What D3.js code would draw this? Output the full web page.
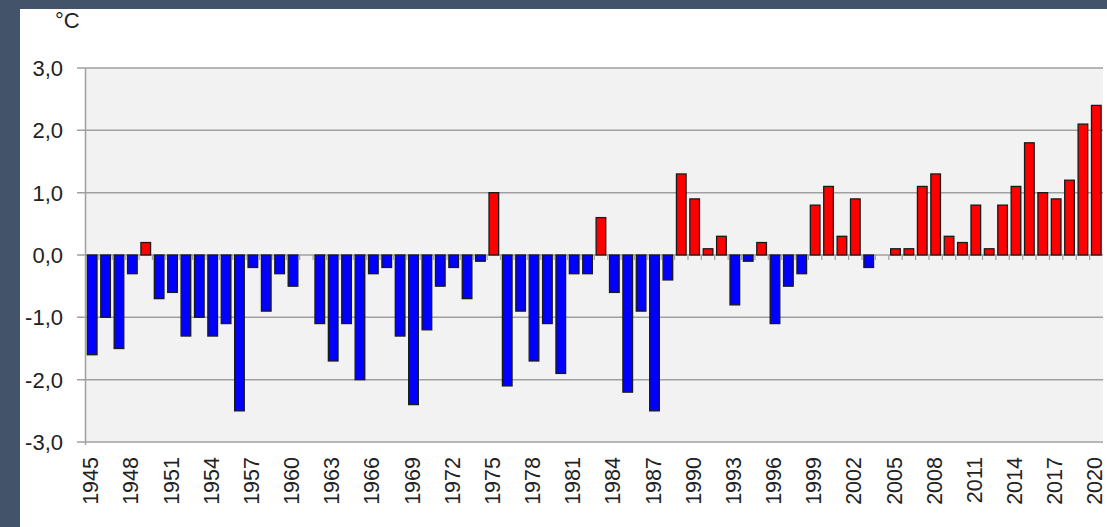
<!DOCTYPE html>
<html>
<head>
<meta charset="utf-8">
<script src="https://cdn.jsdelivr.net/npm/d3@7/dist/d3.min.js"></script>
<style>
	html, body { margin: 0; padding: 0; background: #435369; }
	svg { display: block; }
</style>
</head>
<body>
<div id="chart"></div>
<script>
// anomalías de temperatura por año
var years = d3.range(1945, 2021);
var anomalies = [
	-1.6, -1.0, -1.5, -0.3, 0.2, -0.7, -0.6, -1.3, -1.0, -1.3,
	-1.1, -2.5, -0.2, -0.9, -0.3, -0.5, 0.0, -1.1, -1.7, -1.1,
	-2.0, -0.3, -0.2, -1.3, -2.4, -1.2, -0.5, -0.2, -0.7, -0.1,
	1.0, -2.1, -0.9, -1.7, -1.1, -1.9, -0.3, -0.3, 0.6, -0.6,
	-2.2, -0.9, -2.5, -0.4, 1.3, 0.9, 0.1, 0.3, -0.8, -0.1,
	0.2, -1.1, -0.5, -0.3, 0.8, 1.1, 0.3, 0.9, -0.2, 0.0,
	0.1, 0.1, 1.1, 1.3, 0.3, 0.2, 0.8, 0.1, 0.8, 1.1,
	1.8, 1.0, 0.9, 1.2, 2.1, 2.4
];
var yTicks = [3, 2, 1, 0, -1, -2, -3];
var yearLabels = d3.range(1945, 2021, 3);
var unit = "°C";

var width = 1107, height = 527;
var plotLeft = 85.5, plotRight = 1103, plotTop = 68, plotBottom = 442;

var svg = d3.select("#chart").append("svg")
	.attr("width", width)
	.attr("height", height);

// panel blanco
svg.append("rect")
	.attr("x", 20).attr("y", 9)
	.attr("width", width - 20).attr("height", height - 9)
	.style("fill", "#ffffff");

var x = d3.scaleBand()
	.domain(years)
	.range([plotLeft, plotRight])
	.paddingInner(0.28)
	.paddingOuter(0.14);

var y = d3.scaleLinear()
	.domain([-3, 3])
	.range([plotBottom, plotTop]);

var step = x.step();

svg.append("rect")
	.attr("x", plotLeft).attr("y", plotTop)
	.attr("width", plotRight - plotLeft).attr("height", plotBottom - plotTop)
	.style("fill", "#f2f2f2");

// rejilla
svg.selectAll(".grid")
	.data(yTicks)
	.enter().append("line")
	.attr("x1", plotLeft - 8.5)
	.attr("x2", plotRight)
	.attr("y1", function(d){ return y(d); })
	.attr("y2", function(d){ return y(d); })
	.style("stroke", "#a0a0a0")
	.style("stroke-width", 1.5);

svg.append("line")
	.attr("x1", plotLeft).attr("x2", plotLeft)
	.attr("y1", plotTop).attr("y2", plotBottom + 3)
	.style("stroke", "#a0a0a0")
	.style("stroke-width", 1.5);

// marcas sobre el eje cero
svg.selectAll(".tick0")
	.data(years.slice(1))
	.enter().append("line")
	.attr("x1", function(d){ return x(d) - step * 0.14; })
	.attr("x2", function(d){ return x(d) - step * 0.14; })
	.attr("y1", y(0))
	.attr("y2", y(0) + 5)
	.style("stroke", "#a0a0a0")
	.style("stroke-width", 1.2);

svg.selectAll(".bar")
	.data(years.filter(function(d){ return anomalies[d - 1945] !== 0; }))
	.enter().append("rect")
	.attr("x", function(d){ return x(d); })
	.attr("width", x.bandwidth())
	.attr("y", function(d){ var v = anomalies[d - 1945]; return v > 0 ? y(v) : y(0); })
	.attr("height", function(d){ return Math.abs(y(anomalies[d - 1945]) - y(0)); })
	.style("fill", function(d){ return anomalies[d - 1945] > 0 ? "#ff0000" : "#0000ff"; })
	.style("stroke", "#1a1a1a")
	.style("stroke-width", 1.3);

// etiquetas del eje y
svg.selectAll(".ylab")
	.data(yTicks)
	.enter().append("text")
	.attr("x", 63)
	.attr("y", function(d){ return y(d); })
	.attr("dy", "0.36em")
	.attr("text-anchor", "end")
	.style("font-family", "Liberation Sans, Arial, sans-serif")
	.style("font-size", "22px")
	.style("fill", "#222")
	.text(function(d){ return d3.format(".1f")(d).replace(".", ",").replace("−", "-"); });

// etiquetas del eje x
svg.selectAll(".xlab")
	.data(yearLabels)
	.enter().append("text")
	.attr("transform", function(d){
		return "translate(" + (x(d) + x.bandwidth() / 2) + "," + 457 + ") rotate(-90)";
	})
	.attr("dy", "0.28em")
	.attr("text-anchor", "end")
	.style("font-family", "Liberation Sans, Arial, sans-serif")
	.style("font-size", "21.5px")
	.style("fill", "#222")
	.text(function(d){ return d; });

svg.append("text")
	.attr("x", 55).attr("y", 28)
	.style("font-family", "Liberation Sans, Arial, sans-serif")
	.style("font-size", "22px")
	.style("fill", "#222")
	.text(unit);
</script>
</body>
</html>
